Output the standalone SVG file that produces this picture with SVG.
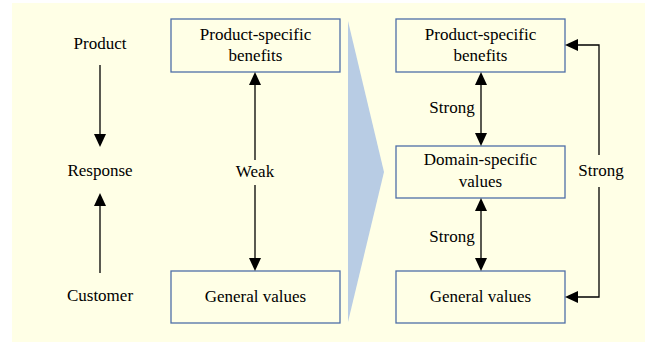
<svg xmlns="http://www.w3.org/2000/svg" width="645" height="342" viewBox="0 0 645 342">
<defs>
<style>
.box{fill:#FFFFE6;stroke:#4F6FA8;stroke-width:1.3}
.ln{stroke:#000;stroke-width:1.3;fill:none}
.ah{fill:#000}
</style>
</defs>
<rect x="12" y="3" width="633" height="339" fill="#FFFFE6"/>
<polygon points="348,21 384,172 348,322" fill="#B8CCE4"/>
<g style="font-family:'Liberation Serif','Times New Roman',serif;font-size:17px;text-anchor:middle">
<g id="lbl-product"><text x="100" y="49">Product</text></g>
<g id="lbl-response"><text x="100" y="176">Response</text></g>
<g id="lbl-customer"><text x="100" y="301">Customer</text></g>
<g id="left-psb"><rect class="box" x="171" y="19" width="169" height="53"/><text x="255.5" y="40">Product-specific</text><text x="255.5" y="61">benefits</text></g>
<g id="left-gv"><rect class="box" x="171" y="271" width="169" height="52"/><text x="255.5" y="302">General values</text></g>
<g id="right-psb"><rect class="box" x="396" y="19" width="169" height="53"/><text x="480.5" y="40">Product-specific</text><text x="480.5" y="61">benefits</text></g>
<g id="right-dsv"><rect class="box" x="396" y="146" width="169" height="52"/><text x="480.5" y="165">Domain-specific</text><text x="480.5" y="187">values</text></g>
<g id="right-gv"><rect class="box" x="396" y="271" width="169" height="52"/><text x="480.5" y="302">General values</text></g>
<g id="connectors">
<line class="ln" x1="100" y1="65" x2="100" y2="136"/>
<polygon class="ah" points="94,134 106,134 100,147"/>
<line class="ln" x1="100" y1="273" x2="100" y2="204"/>
<polygon class="ah" points="94,206 106,206 100,193"/>
<line class="ln" x1="255" y1="160" x2="255" y2="83"/>
<polygon class="ah" points="249,85 261,85 255,72"/>
<line class="ln" x1="255" y1="185" x2="255" y2="260"/>
<polygon class="ah" points="249,258 261,258 255,271"/>
<text x="255" y="177">Weak</text>
<line class="ln" x1="481" y1="83" x2="481" y2="135"/>
<polygon class="ah" points="475,85 487,85 481,72"/>
<polygon class="ah" points="475,133 487,133 481,146"/>
<text x="452" y="113">Strong</text>
<line class="ln" x1="481" y1="209" x2="481" y2="260"/>
<polygon class="ah" points="475,211 487,211 481,198"/>
<polygon class="ah" points="475,258 487,258 481,271"/>
<text x="452" y="242">Strong</text>
<polyline class="ln" points="576,45 599,45 599,155"/>
<polyline class="ln" points="599,187 599,297 576,297"/>
<polygon class="ah" points="578,39 578,51 565,45"/>
<polygon class="ah" points="578,291 578,303 565,297"/>
<text x="601" y="176">Strong</text>
</g>
</g>
</svg>
